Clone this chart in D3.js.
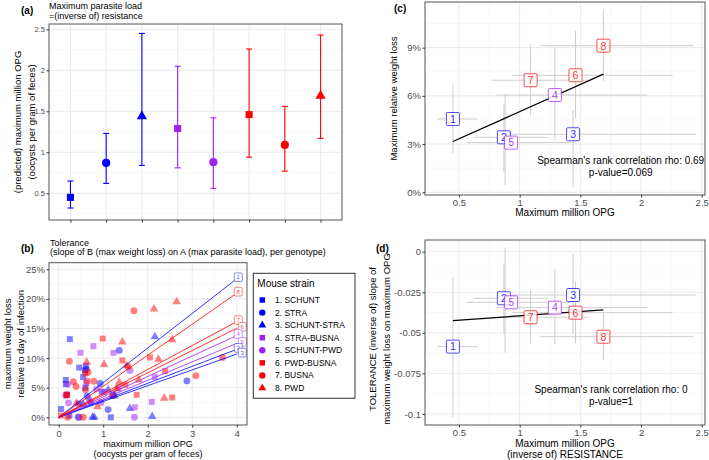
<!DOCTYPE html>
<html><head><meta charset="utf-8">
<script src="https://cdn.jsdelivr.net/npm/d3@7"></script>
<style>body{margin:0;background:#fff}svg{display:block}</style>
</head><body><svg id="c" width="709" height="460"></svg>
<script>
// ---------------- DATA ----------------
const strains = ["1. SCHUNT","2. STRA","3. SCHUNT-STRA","4. STRA-BUSNA","5. SCHUNT-PWD","6. PWD-BUSNA","7. BUSNA","8. PWD"];
const strainIds = ["1","2","3","4","5","6","7","8"];
// (a) predicted maximum million OPG with CI
const maxOPG  = [0.45,0.87,1.44,1.29,0.88,1.46,1.09,1.69];
const opgLow  = [0.32,0.62,0.84,0.81,0.56,0.94,0.77,1.17];
const opgHigh = [0.65,1.23,2.45,2.05,1.42,2.26,1.56,2.43];
// (c) maximum relative weight loss (%) with CI
const maxWL  = [4.56,3.42,3.61,6.05,3.09,7.28,6.97,9.12];
const wlLow  = [2.43,1.28,0.29,3.25,0.45,4.60,4.77,6.93];
const wlHigh = [6.72,5.48,5.10,8.96,6.10,10.04,9.17,11.39];
// (d) tolerance slope with CI
const tolerance = [-0.0585,-0.0287,-0.0267,-0.0345,-0.0312,-0.0376,-0.0404,-0.0524];
const tolLow    = [-0.102,-0.0509,-0.0509,-0.057,-0.0622,-0.0565,-0.0565,-0.0667];
const tolHigh   = [-0.016,-0.0072,-0.0014,-0.0108,0.0025,-0.0185,-0.0236,-0.0376];
// (b) individual mice: [max million OPG, max weight loss %] per strain
const miceSCHUNT = [[0.25,13.2],[0.46,8.4],[0.61,8.7],[0.59,7.9],[0.55,6.8],[0.60,5.0],[0.16,6.3],[0.16,5.6],[0.97,4.3],[1.17,0],[0.24,0.3],[0.05,1.4],[0.45,2.3],[0.18,3.8]];
const miceSTRA = [[1.36,11.3],[0.93,5.7],[1.11,1.3],[2.88,6.15],[0.64,3.6],[1.23,3.8],[0.44,0],[0.72,2.6],[0.62,8.1]];
const miceSCHUNT_STRA = [[2.16,13.6],[2.10,0.15],[1.60,1.5],[0.76,0],[0.80,0],[1.11,4.6],[0.55,2.2],[1.25,3.6]];
const miceSTRA_BUSNA = [[0.78,12.0],[0.49,10.9],[1.23,10.9],[2.16,6.8],[2.09,2.6],[1.71,1.7],[0.85,4.75],[0.18,3.8],[0.62,5.8],[1.02,4.3]];
const miceSCHUNT_PWD = [[1.60,7.9],[0.22,2.4],[1.70,0],[0.46,0],[0.16,3.7],[1.35,5.0],[0.68,3.0],[0.95,2.5],[0.20,5.6]];
const micePWD_BUSNA = [[0.99,13.3],[1.43,9.6],[2.05,10.1],[2.39,7.8],[2.55,3.35],[1.75,3.8],[1.20,3.6],[0.18,3.8],[0.60,7.4],[1.50,5.5],[0.05,0.3]];
const miceBUSNA = [[1.69,18.0],[0.24,9.45],[3.68,10.1],[3.08,7.0],[0.33,6.0],[0.39,5.2],[0.64,6.1],[0.79,6.1],[0.18,3.8],[0.60,4.7],[0.66,7.6],[1.56,8.6],[0.55,0],[0.20,0]];
const micePWD = [[2.14,18.3],[2.65,19.5],[1.43,12.7],[2.55,13.1],[0.63,9.3],[1.02,8.9],[2.24,9.8],[1.53,8.7],[1.36,5.9],[0.87,1.8],[2.37,3.2],[1.80,6.3],[1.30,4.8],[0.40,2.4]];
const mice = [miceSCHUNT,miceSTRA,miceSCHUNT_STRA,miceSTRA_BUSNA,miceSCHUNT_PWD,micePWD_BUSNA,miceBUSNA,micePWD];
// tick values
const ticksA_y = [0.5,1,1.5,2,2.5];
const ticksB_x = [0,1,2,3,4];
const ticksB_y = [0,5,10,15,20,25];
const ticksCD_x = [0.5,1,1.5,2,2.5];
const ticksC_y = [0,3,6,9];
const ticksD_y = [0,-0.025,-0.05,-0.075,-0.1];

// ---------------- STYLE ----------------
const FONT = '"Liberation Sans", Arial, Helvetica, sans-serif';
const svg = d3.select("#c").attr("font-family", FONT);
const colour = d3.scaleOrdinal().domain(strains)
  .range(["#0000ff","#0000ff","#0000ff","#a020f0","#a020f0","#ff0000","#ff0000","#ff0000"]);
const shape = d3.scaleOrdinal().domain(strains)
  .range([d3.symbolSquare,d3.symbolCircle,d3.symbolTriangle,d3.symbolSquare,d3.symbolCircle,d3.symbolSquare,d3.symbolCircle,d3.symbolTriangle]);
const BORDER = "#555";

function frame(box, xs, ys, xMaj, xMin, yMaj, yMin) {
  const g = svg.append("g");
  g.append("rect").attr("x",box.l).attr("y",box.t).attr("width",box.r-box.l).attr("height",box.b-box.t).attr("fill","#fff");
  const vl = (v,c,w)=>g.append("line").attr("x1",xs(v)).attr("x2",xs(v)).attr("y1",box.t).attr("y2",box.b).attr("stroke",c).attr("stroke-width",w);
  const hl = (v,c,w)=>g.append("line").attr("y1",ys(v)).attr("y2",ys(v)).attr("x1",box.l).attr("x2",box.r).attr("stroke",c).attr("stroke-width",w);
  xMin.forEach(v=>vl(v,"#f3f3f3",0.6)); yMin.forEach(v=>hl(v,"#f3f3f3",0.6));
  xMaj.forEach(v=>vl(v,"#e8e8e8",0.9)); yMaj.forEach(v=>hl(v,"#e8e8e8",0.9));
}
function border(box) {
  svg.append("rect").attr("x",box.l).attr("y",box.t).attr("width",box.r-box.l).attr("height",box.b-box.t)
    .attr("fill","none").attr("stroke",BORDER).attr("stroke-width",1);
}
function styleAxis(a, fs) {
  a.attr("font-family",FONT).attr("font-size",fs);
  a.select(".domain").remove();
  a.selectAll(".tick line").attr("stroke","#333");
  a.selectAll(".tick text").attr("fill","#4d4d4d");
}
function yAxis(box, ys, vals, fmt, fs) {
  const a = svg.append("g").attr("transform",`translate(${box.l},0)`)
    .call(d3.axisLeft(ys).tickValues(vals).tickFormat(fmt).tickSize(2.5).tickPadding(1.5));
  styleAxis(a, fs);
}
function xAxis(box, xs, vals, fmt, fs, pad) {
  const ax = d3.axisBottom(xs).tickFormat(fmt).tickSize(2.5).tickPadding(pad);
  if (vals) ax.tickValues(vals);
  const a = svg.append("g").attr("transform",`translate(0,${box.b})`).call(ax);
  styleAxis(a, fs);
}
function text(x, y, s, fs, opts={}) {
  const t = svg.append("text").attr("x",x).attr("y",y).text(s).attr("font-size",fs).attr("fill",opts.fill||"#000");
  if (opts.anchor) t.attr("text-anchor",opts.anchor);
  if (opts.bold) t.attr("font-weight","bold");
  if (opts.rotate) t.attr("transform",`rotate(-90,${x},${y})`);
  return t;
}
function symSize(sh, base) { return sh===d3.symbolTriangle ? base*0.9 : sh===d3.symbolCircle ? base*1.05 : base; }

// ---------------- PANEL A ----------------
const boxA = {l:49, r:342, t:24, b:220};
const xA = d3.scalePoint().domain(strains).range([boxA.l, boxA.r]).padding(0.6);
const yA = d3.scaleLinear().domain([0.174, 2.565]).range([boxA.b, boxA.t]);
frame(boxA, xA, yA, strains, [], ticksA_y, [0.25,0.75,1.25,1.75,2.25]);
strains.forEach((s,i)=>{
  const x = xA(s), c = colour(s);
  svg.append("line").attr("x1",x).attr("x2",x).attr("y1",yA(opgLow[i])).attr("y2",yA(opgHigh[i])).attr("stroke",c).attr("stroke-width",1.1);
  [opgLow[i],opgHigh[i]].forEach(v=>svg.append("line").attr("x1",x-3).attr("x2",x+3).attr("y1",yA(v)).attr("y2",yA(v)).attr("stroke",c).attr("stroke-width",1.1));
  svg.append("path").attr("d",d3.symbol(shape(s), symSize(shape(s),50))()).attr("transform",`translate(${x},${yA(maxOPG[i])})`).attr("fill",c);
});
border(boxA);
yAxis(boxA, yA, ticksA_y, d=>String(d), 7.5);
xAxis(boxA, xA, null, ()=>"", 7.5, 1.5);
text(21, 14, "(a)", 10, {bold:true});
text(49, 9, "Maximum parasite load", 9);
text(49, 19, "=(inverse of) resistance", 9);
text(20.5, (boxA.t+boxA.b)/2, "(predicted) maximum million OPG", 9.5, {anchor:"middle", rotate:true});
text(34.5, (boxA.t+boxA.b)/2, "(oocysts per gram of feces)", 9.5, {anchor:"middle", rotate:true});

// ---------------- PANEL B ----------------
const boxB = {l:49, r:247, t:262.7, b:425};
const xB = d3.scaleLinear().domain([-0.218, 4.23]).range([boxB.l, boxB.r]);
const yB = d3.scaleLinear().domain([-1.3, 26.11]).range([boxB.b, boxB.t]);
frame(boxB, xB, yB, ticksB_x, [0.5,1.5,2.5,3.5], ticksB_y, [2.5,7.5,12.5,17.5,22.5]);
const gB = svg.append("g");
strains.forEach((s,i)=>{
  gB.selectAll(null).data(mice[i]).enter().append("path")
    .attr("d",d3.symbol(shape(s), symSize(shape(s),36))())
    .attr("transform",d=>`translate(${xB(d[0])},${yB(d[1])})`)
    .attr("fill",colour(s)).attr("fill-opacity",0.5);
});
strains.forEach((s,i)=>{
  const slope = -tolerance[i]*100;
  gB.append("line").attr("x1",xB(0)).attr("y1",yB(0)).attr("x2",xB(4)).attr("y2",yB(slope*4))
    .attr("stroke",colour(s)).attr("stroke-width",1).attr("stroke-opacity",0.8);
});
// simple repel for end labels
const endLabels = strains.map((s,i)=>({s, id:strainIds[i], y:yB(-tolerance[i]*400)-1.5, dx:0}))
  .sort((a,b)=>a.y-b.y);
endLabels.forEach((l,k)=>{
  if (k>0 && l.y - endLabels[k-1].y < 8) l.dx = endLabels[k-1].dx===0 ? 4 : 0;
});
endLabels.forEach(l=>{
  const cx = xB(4)+1.5+l.dx;
  gB.append("rect").attr("x",cx-4).attr("y",l.y-4.3).attr("width",8).attr("height",8.6).attr("rx",1.5)
    .attr("fill","#fff").attr("stroke",colour(l.s)).attr("stroke-opacity",0.6).attr("stroke-width",0.8);
  gB.append("text").attr("x",cx).attr("y",l.y+2.1).attr("text-anchor","middle").attr("font-size",6)
    .attr("fill",colour(l.s)).attr("fill-opacity",0.75).text(l.id);
});
border(boxB);
yAxis(boxB, yB, ticksB_y, d=>d+"%", 9.5);
xAxis(boxB, xB, ticksB_x, d=>String(d), 9.5, 2.4);
text(21, 252, "(b)", 10, {bold:true});
text(50, 245.5, "Tolerance", 9);
text(50, 255, "(slope of B (max weight loss) on A (max parasite load), per genotype)", 9);
text(148, 446.5, "maximum million OPG", 9, {anchor:"middle"});
text(148, 457.3, "(oocysts per gram of feces)", 9, {anchor:"middle"});
text(11.5, (boxB.t+boxB.b)/2, "maximum weight loss", 9.5, {anchor:"middle", rotate:true});
text(24, (boxB.t+boxB.b)/2, "relative to day of infection", 9.5, {anchor:"middle", rotate:true});

// legend
const lg = {l:253.3, r:355, t:273.3, b:398.3};
svg.append("rect").attr("x",lg.l).attr("y",lg.t).attr("width",lg.r-lg.l).attr("height",lg.b-lg.t).attr("fill","#fff").attr("stroke","#333").attr("stroke-width",1);
text(257.3, 287, "Mouse strain", 10);
const legY = d3.scalePoint().domain(strains).range([300, 388]);
strains.forEach(s=>{
  svg.append("path").attr("d",d3.symbol(shape(s), symSize(shape(s),30))()).attr("transform",`translate(262.3,${legY(s)})`).attr("fill",colour(s));
  text(275, legY(s)+3, s, 8.5);
});

// ---------------- PANEL C & D helpers ----------------
function fitLine(xv, yv) {
  const mx=d3.mean(xv), my=d3.mean(yv);
  const b = d3.sum(xv.map((x,i)=>(x-mx)*(yv[i]-my)))/d3.sum(xv.map(x=>(x-mx)*(x-mx)));
  return x=>my+b*(x-mx);
}
function idLabels(g, xs, ys, yv) {
  const placed=[];
  strains.forEach((s,i)=>{
    let cx = xs(maxOPG[i]), cy = ys(yv[i]);
    placed.forEach(p=>{ if (Math.abs(p[0]-cx)<8 && Math.abs(p[1]-cy)<8) cx += 6; });
    placed.push([cx,cy]);
    g.append("rect").attr("x",cx-6.5).attr("y",cy-6.5).attr("width",13).attr("height",13).attr("rx",1)
      .attr("fill","#fff").attr("fill-opacity",0.85).attr("stroke",colour(s)).attr("stroke-opacity",0.7).attr("stroke-width",1);
    g.append("text").attr("x",cx).attr("y",cy+3.8).attr("text-anchor","middle").attr("font-size",10.5)
      .attr("fill",colour(s)).attr("fill-opacity",0.85).text(strainIds[i]);
  });
}
function errBars(g, xs, ys, yv, lo, hi) {
  strains.forEach((s,i)=>{
    g.append("line").attr("x1",xs(opgLow[i])).attr("x2",xs(opgHigh[i])).attr("y1",ys(yv[i])).attr("y2",ys(yv[i])).attr("stroke","#c8c8c8").attr("stroke-width",0.9);
    g.append("line").attr("x1",xs(maxOPG[i])).attr("x2",xs(maxOPG[i])).attr("y1",ys(lo[i])).attr("y2",ys(hi[i])).attr("stroke","#c8c8c8").attr("stroke-width",0.9);
  });
}
function regLine(g, xs, ys, yv) {
  const f = fitLine(maxOPG, yv), x0=d3.min(maxOPG), x1=d3.max(maxOPG);
  g.append("line").attr("x1",xs(x0)).attr("y1",ys(f(x0))).attr("x2",xs(x1)).attr("y2",ys(f(x1))).attr("stroke","#000").attr("stroke-width",1.3);
}

// ---------------- PANEL C ----------------
const boxC = {l:425, r:705, t:2, b:195};
const xC = d3.scaleLinear().domain([0.22, 2.527]).range([boxC.l, boxC.r]);
const yC = d3.scaleLinear().domain([-0.17, 11.84]).range([boxC.b, boxC.t]);
frame(boxC, xC, yC, ticksCD_x, [0.25,0.75,1.25,1.75,2.25], ticksC_y, [1.5,4.5,7.5,10.5]);
const gC = svg.append("g");
errBars(gC, xC, yC, maxWL, wlLow, wlHigh);
regLine(gC, xC, yC, maxWL);
idLabels(gC, xC, yC, maxWL);
text(620.7, 164, "Spearman's rank correlation rho: 0.69", 10, {anchor:"middle"});
text(620.7, 175.8, "p-value=0.069", 10, {anchor:"middle"});
border(boxC);
yAxis(boxC, yC, ticksC_y, d=>d+"%", 9.5);
xAxis(boxC, xC, ticksCD_x, d=>String(d), 9.5, 1.8);
text(394, 12, "(c)", 10, {bold:true});
text(565, 215.5, "Maximum million OPG", 10, {anchor:"middle"});
text(396.8, (boxC.t+boxC.b)/2, "Maximum relative weight loss", 9.5, {anchor:"middle", rotate:true});

// ---------------- PANEL D ----------------
const boxD = {l:425, r:705, t:240, b:425};
const xD = d3.scaleLinear().domain([0.22, 2.527]).range([boxD.l, boxD.r]);
const yD = d3.scaleLinear().domain([-0.1068, 0.0072]).range([boxD.b, boxD.t]);
frame(boxD, xD, yD, ticksCD_x, [0.25,0.75,1.25,1.75,2.25], ticksD_y, [-0.0125,-0.0375,-0.0625,-0.0875]);
const gD = svg.append("g");
errBars(gD, xD, yD, tolerance, tolLow, tolHigh);
regLine(gD, xD, yD, tolerance);
idLabels(gD, xD, yD, tolerance);
text(611, 392.8, "Spearman's rank correlation rho: 0", 10, {anchor:"middle"});
text(611, 404.8, "p-value=1", 10, {anchor:"middle"});
border(boxD);
yAxis(boxD, yD, ticksD_y, d=>(d<0?"-":"")+Math.abs(d), 9.5);
xAxis(boxD, xD, ticksCD_x, d=>String(d), 9.5, 1.5);
text(376, 251.8, "(d)", 10, {bold:true});
text(565, 446.8, "Maximum million OPG", 10, {anchor:"middle"});
text(565, 458.3, "(inverse of) RESISTANCE", 10, {anchor:"middle"});
text(376.3, 339, "TOLERANCE (inverse of) slope of", 9.5, {anchor:"middle", rotate:true});
text(389.5, 339, "maximum weight loss on maximum OPG", 9.5, {anchor:"middle", rotate:true});
</script>
</body></html>
